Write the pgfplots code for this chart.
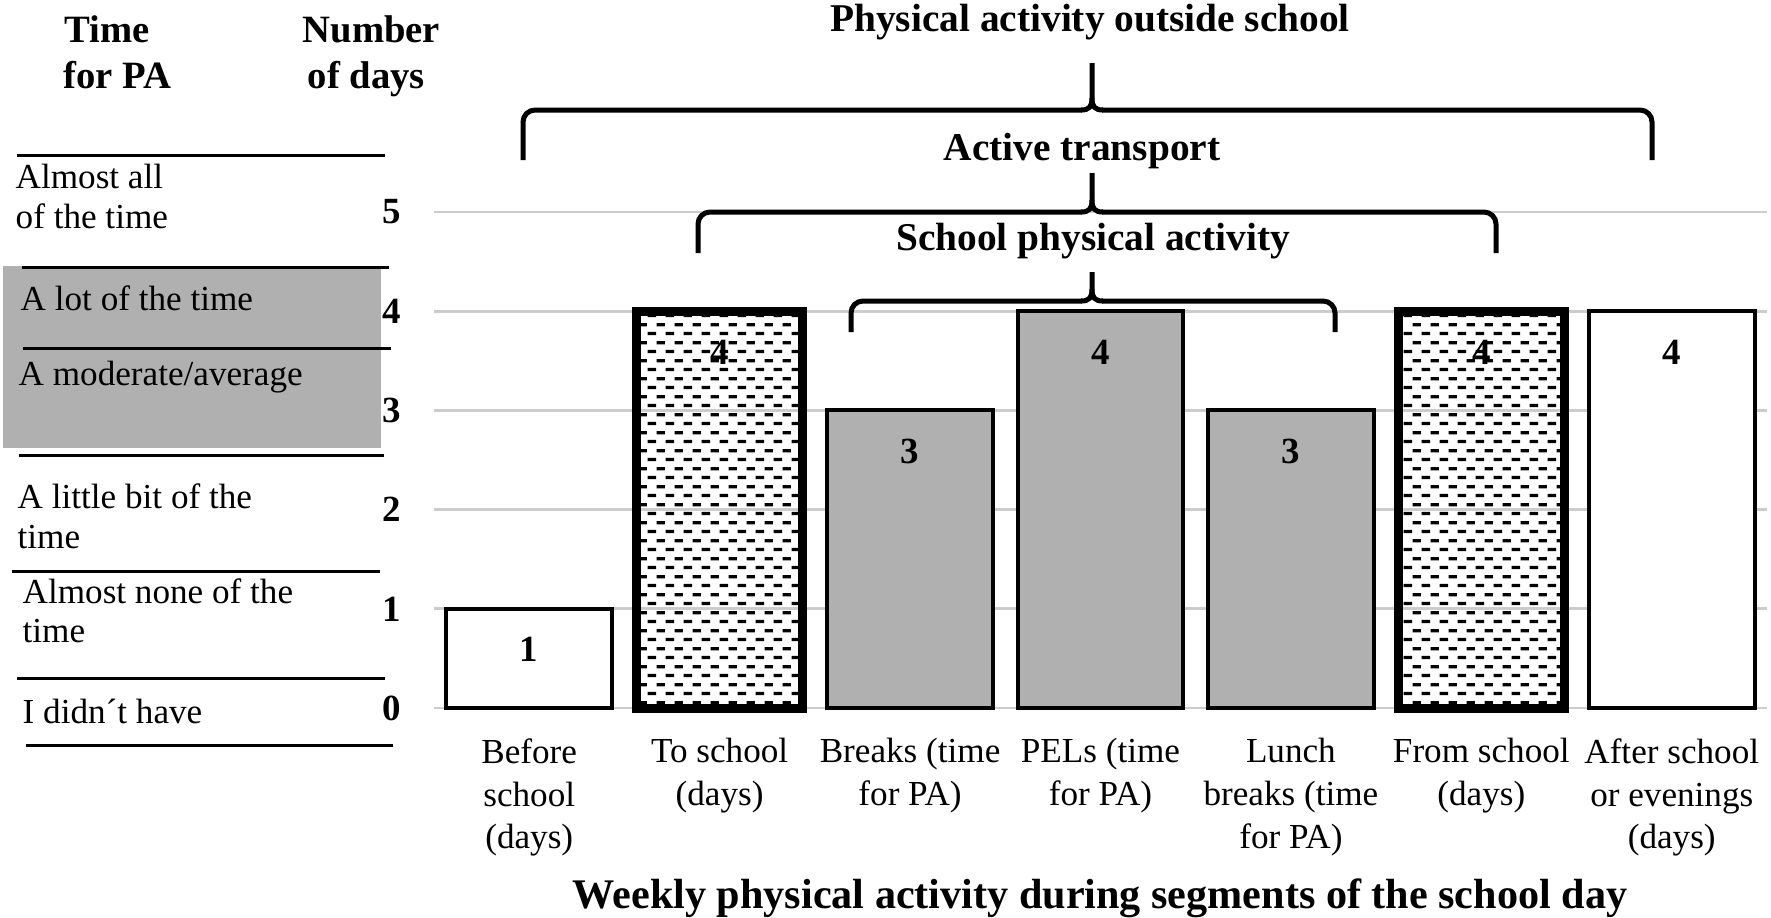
\documentclass[border=0pt]{standalone}
\usepackage{fontspec}
\setmainfont{Liberation Serif}
\usepackage{pgfplots}
\pgfplotsset{compat=1.18}
\usetikzlibrary{patterns}
\definecolor{barg}{gray}{0.69}
\pgfdeclarepatternformonly{hdash}{\pgfpoint{0pt}{0pt}}{\pgfpoint{5.12pt}{5.2pt}}{\pgfpoint{5.12pt}{5.2pt}}{%
 \pgfsetlinewidth{0.95pt}%
 \pgfpathmoveto{\pgfpoint{0.2pt}{1.3pt}}\pgfpathlineto{\pgfpoint{2.6pt}{1.3pt}}%
 \pgfpathmoveto{\pgfpoint{2.76pt}{3.9pt}}\pgfpathlineto{\pgfpoint{5.16pt}{3.9pt}}%
 \pgfusepath{stroke}}

\begin{document}
\begin{tikzpicture}
\useasboundingbox (0,0) rectangle (177.1mm,-91.7mm);
\begin{axis}[
 at={(43.4mm,-70.8mm)}, anchor=south west,
 scale only axis, width=133.3mm, height=49.6mm,
 xmin=-0.5, xmax=6.5, ymin=0, ymax=5, enlargelimits=false,
 axis line style={draw=none}, major tick length=0pt,
 ymajorgrids, grid style={gray!40, line width=0.28mm},
 ytick={0,1,2,3,4,5},
 xtick={0,1,2,3,4,5,6},
 xticklabels={Before\\school\\(days), To school\\(days), Breaks (time\\for PA), PELs (time\\for PA), Lunch\\breaks (time\\for PA), From school\\(days), After school\\or evenings\\(days)},
 xticklabel style={align=center, font=\fontsize{10}{12.2}\selectfont, yshift=-1.8mm},
 yticklabel style={font=\bfseries\fontsize{10.5}{12}\selectfont, xshift=-2.1mm},
 /pgf/number format/assume math mode=true,
 ybar=0pt, bar width=0.87,
 nodes near coords,
 every node near coord/.append style={font=\bfseries\fontsize{10.5}{12}\selectfont, anchor=center, yshift=-4.1mm, text=black},
 clip=false,
]
\addplot[fill=white, draw=black, line width=0.4mm, bar shift=0pt] coordinates {(0,1) (6,4)};
\addplot[pattern=hdash, draw=black, line width=0.9mm, bar shift=0pt] coordinates {(1,4) (5,4)};
\addplot[fill=barg, draw=black, line width=0.4mm, bar shift=0pt] coordinates {(2,3) (3,4) (4,3)};
\end{axis}

\begin{scope}[x=0.1mm, y=-0.1mm]
\fill[barg] (3,266) rectangle (381,448);
\foreach \y/\a/\b in {155/17/385, 267/22/389, 348/23/391, 455/19/384, 571/12/380, 678/17/385, 745/26/393}
  \draw[line width=0.3mm] (\a,\y) -- (\b,\y);
\tikzset{lt/.style={anchor=base west, inner sep=0pt, font=\fontsize{10}{12}\selectfont},
         hd/.style={anchor=base west, inner sep=0pt, font=\bfseries\fontsize{11}{13}\selectfont},
         tt/.style={anchor=base, inner sep=0pt, font=\bfseries\fontsize{11.2}{13}\selectfont}}
\node[hd] at (64,42) {Time};
\node[hd] at (63,88) {for PA};
\node[hd] at (302,42) {Number};
\node[hd] at (307,88) {of days};
\node[lt] at (15,188) {Almost all};
\node[lt] at (15,228) {of the time};
\node[lt] at (20,310) {A lot of the time};
\node[lt] at (18,385) {A moderate/average};
\node[lt] at (17,508) {A little bit of the};
\node[lt] at (17,548) {time};
\node[lt] at (22,603) {Almost none of the};
\node[lt] at (22,642) {time};
\node[lt] at (22,723) {I didn´t have};
% group titles
\node[tt] at (1090,31) {Physical activity outside school};
\node[tt] at (1082,160) {Active transport};
\node[tt] at (1093,250) {School physical activity};
% braces
\foreach \xl/\xr/\yh/\yb/\yt in {523/1652/110/160/63, 698/1496/212/253/173, 851/1335/301/332/272}{
  \draw[line width=0.5mm, rounded corners=1.2mm] (\xl,\yb) -- (\xl,\yh) -- (1082,\yh);
  \draw[line width=0.5mm, rounded corners=1.2mm] (1102,\yh) -- (\xr,\yh) -- (\xr,\yb);
  \draw[line width=0.5mm] (1081,\yh) .. controls (1089,\yh) and (1092,\yh-3) .. (1092,\yh-12) -- (1092,\yt);
  \draw[line width=0.5mm] (1103,\yh) .. controls (1095,\yh) and (1092,\yh-3) .. (1092,\yh-12);
}
\node[anchor=base, inner sep=0pt, font=\bfseries\fontsize{12}{14}\selectfont] at (1100,908) {Weekly physical activity during segments of the school day};
\end{scope}
\end{tikzpicture}
\end{document}
